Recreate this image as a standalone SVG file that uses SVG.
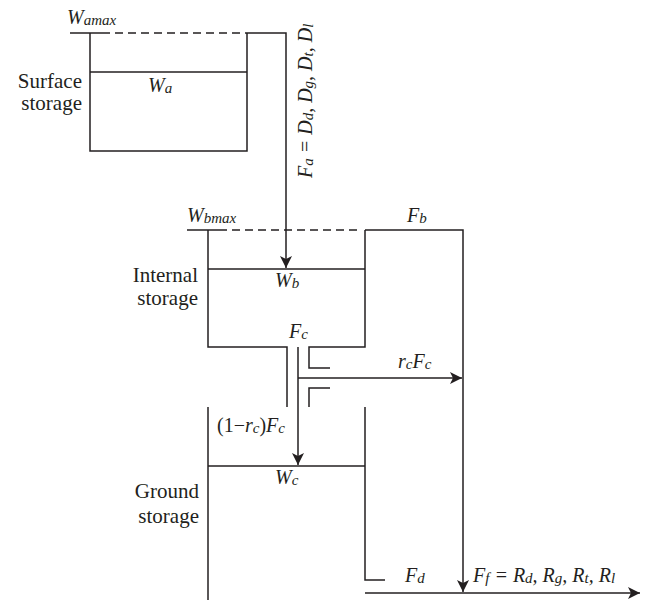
<svg xmlns="http://www.w3.org/2000/svg" width="648" height="603" viewBox="0 0 648 603">
<style>
.ln{stroke:#231f20;stroke-width:1.5;fill:none}
.ds{stroke-dasharray:8 5}
.t{font-size:21px;fill:#231f20}
.v{font-style:italic;font-size:20px;fill:#231f20}
.s{font-size:15px}
</style>
<defs>
<marker id="ah" viewBox="0 0 12 12" refX="12" refY="6" markerWidth="12" markerHeight="12" markerUnits="userSpaceOnUse" orient="auto"><path d="M0,0 L12,6 L0,12 L3,6 z" fill="#231f20"/></marker>
</defs>
<g font-family="Liberation Serif, serif">
<g id="surface">
<path class="ln" d="M70,33 H110"/>
<path class="ln ds" d="M115,33 H247"/>
<path class="ln" d="M90,33 V151 H247 V33"/>
<path class="ln" d="M90,72 H247"/>
<text class="v" x="67" y="24">W<tspan class="s" dy="1">amax</tspan></text>
<text class="v" x="148" y="92">W<tspan class="s" dy="1">a</tspan></text>
<text class="t" text-anchor="end" x="82" y="88">Surface</text>
<text class="t" text-anchor="end" x="82" y="110">storage</text>
</g>
<g id="internal">
<path class="ln" d="M187,230 H227"/>
<path class="ln ds" d="M232,230 H362"/>
<path class="ln" d="M208,230 V347 H287 V407"/>
<path class="ln" d="M365,230 V347 H309 V368 H330"/>
<path class="ln" d="M330,388 H309 V407"/>
<path class="ln" d="M208,269 H365"/>
<text class="v" x="187" y="222">W<tspan class="s" dy="1">bmax</tspan></text>
<text class="v" x="275" y="287">W<tspan class="s" dy="1">b</tspan></text>
<text class="t" text-anchor="end" x="198" y="282">Internal</text>
<text class="t" text-anchor="end" x="198" y="305">storage</text>
</g>
<g id="ground">
<path class="ln" d="M208,407 V600"/>
<path class="ln" d="M365,407 V580 H385"/>
<path class="ln" d="M208,466 H365"/>
<text class="v" x="275" y="484">W<tspan class="s" dy="1">c</tspan></text>
<text class="t" text-anchor="end" x="199" y="498">Ground</text>
<text class="t" text-anchor="end" x="199" y="523">storage</text>
</g>
<g id="connectors">
<path class="ln" d="M247,33 H286 V268" marker-end="url(#ah)"/>
<path class="ln" d="M365,230 H463 V592" marker-end="url(#ah)"/>
<path class="ln" d="M298,347 V465" marker-end="url(#ah)"/>
<path class="ln" d="M298,378 H462" marker-end="url(#ah)"/>
<path class="ln" d="M365,593 H640" marker-end="url(#ah)"/>
<text class="v" transform="translate(312,178) rotate(-90)">F<tspan class="s" dy="1">a</tspan><tspan dy="-1"> = D</tspan><tspan class="s" dy="1">d</tspan><tspan dy="-1">, D</tspan><tspan class="s" dy="1">g</tspan><tspan dy="-1">, D</tspan><tspan class="s" dy="1">t</tspan><tspan dy="-1">, D</tspan><tspan class="s" dy="1">l</tspan></text>
<text class="v" x="407" y="222">F<tspan class="s" dy="1">b</tspan></text>
<text class="v" x="289" y="338">F<tspan class="s" dy="1">c</tspan></text>
<text class="v" x="398" y="368">r<tspan class="s" dy="1">c</tspan><tspan dy="-1">F</tspan><tspan class="s" dy="1">c</tspan></text>
<text class="v" x="217" y="432"><tspan font-style="normal">(1−</tspan>r<tspan class="s" dy="1">c</tspan><tspan dy="-1" font-style="normal">)</tspan>F<tspan class="s" dy="1">c</tspan></text>
<text class="v" x="405" y="582">F<tspan class="s" dy="1">d</tspan></text>
<text class="v" x="473" y="582">F<tspan class="s" dy="1">f</tspan><tspan dy="-1"> = R</tspan><tspan class="s" dy="1">d</tspan><tspan dy="-1">, R</tspan><tspan class="s" dy="1">g</tspan><tspan dy="-1">, R</tspan><tspan class="s" dy="1">t</tspan><tspan dy="-1">, R</tspan><tspan class="s" dy="1">l</tspan></text>
</g>
</g>
</svg>
